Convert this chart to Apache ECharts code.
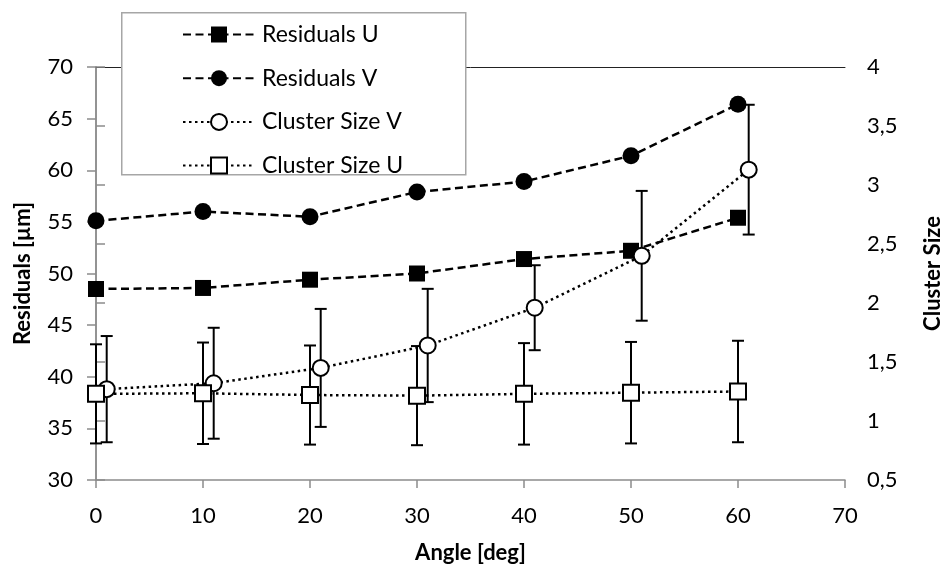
<!DOCTYPE html>
<html>
<head>
<meta charset="utf-8">
<script src="https://cdn.jsdelivr.net/npm/echarts@6/dist/echarts.min.js"></script>
<style>
  html, body { margin: 0; padding: 0; background: #fff; }
  #chart { width: 952px; height: 569px; }
</style>
</head>
<body>
<div id="chart"></div>
<script>
// Measured angles (deg); the cluster-size V points are drawn 1 deg to the right
const angles = [0, 10, 20, 30, 40, 50, 60];
const clusterAnglesV = [1, 11, 21, 31, 41, 51, 61];

// Residuals in micrometres (left axis)
const residualsU = [48.5, 48.6, 49.4, 50.0, 51.4, 52.2, 55.4];
const residualsV = [55.1, 56.0, 55.5, 57.9, 58.9, 61.4, 66.4];

// Cluster size (right axis) with symmetric errors
const clusterSizeV = [1.27, 1.32, 1.45, 1.64, 1.96, 2.40, 3.13];
const clusterErrV  = [0.45, 0.47, 0.50, 0.48, 0.36, 0.55, 0.55];
const clusterSizeU = [1.23, 1.235, 1.22, 1.215, 1.23, 1.24, 1.25];
const clusterErrU  = [0.42, 0.43, 0.42, 0.42, 0.43, 0.43, 0.43];

// Tick labels of the right axis use a decimal comma
const rightTicks = [0.5, 1, 1.5, 2, 2.5, 3, 3.5, 4];
const rightTickLabels = ['0,5', '1', '1,5', '2', '2,5', '3', '3,5', '4'];

const FONT = 'Lato';
const AXIS_GREY = '#8c8c8c';

const pairs = (xs, ys) => xs.map((x, i) => [x, ys[i]]);
const errRows = (xs, ys, es) => xs.map((x, i) => [x, ys[i] - es[i], ys[i] + es[i]]);

// Vertical error bar with short horizontal caps
function errorBar(params, api) {
  const x = api.value(0);
  const lo = api.coord([x, api.value(1)]);
  const hi = api.coord([x, api.value(2)]);
  const cap = 6;
  const st = { stroke: '#000', lineWidth: 2 };
  return {
    type: 'group',
    children: [
      { type: 'line', shape: { x1: hi[0], y1: hi[1], x2: lo[0], y2: lo[1] }, style: st },
      { type: 'line', shape: { x1: hi[0] - cap, y1: hi[1], x2: hi[0] + cap, y2: hi[1] }, style: st },
      { type: 'line', shape: { x1: lo[0] - cap, y1: lo[1], x2: lo[0] + cap, y2: lo[1] }, style: st }
    ]
  };
}

const chart = echarts.init(document.getElementById('chart'), null, { renderer: 'canvas' });

chart.setOption({
  animation: false,
  backgroundColor: '#fff',
  textStyle: { fontFamily: FONT, color: '#000' },
  grid: { left: 96, right: 93, top: 67, bottom: 88, containLabel: false },
  graphic: [{
    type: 'rect',
    left: 121, top: 12, z: 5,
    shape: { width: 344, height: 162 },
    style: { fill: '#fff', stroke: '#a6a6a6', lineWidth: 1.5 }
  }],
  legend: {
    orient: 'vertical',
    left: 182, top: 23, z: 6,
    itemWidth: 72, itemHeight: 20, itemGap: 20.7,
    padding: 0,
    textStyle: { fontFamily: FONT, fontSize: 23, lineHeight: 20, color: '#000', padding: [0, 0, 0, 2] },
    data: ['Residuals U', 'Residuals V', 'Cluster Size V', 'Cluster Size U']
  },
  xAxis: [{
    type: 'value', min: 0, max: 70, interval: 10,
    name: 'Angle [deg]', nameLocation: 'middle', nameGap: 62,
    nameTextStyle: { fontFamily: FONT, fontSize: 22, fontWeight: 'bold', color: '#000' },
    axisLine: { show: true, lineStyle: { color: AXIS_GREY, width: 1.5 } },
    axisTick: { show: true, length: 8, lineStyle: { color: AXIS_GREY, width: 1.5 } },
    axisLabel: { fontFamily: FONT, fontSize: 22, color: '#000', margin: 25 },
    splitLine: { show: false }
  }, {
    type: 'value', position: 'top', min: 0, max: 70,
    axisLine: { show: true, lineStyle: { color: '#222', width: 1 } },
    axisTick: { show: false }, axisLabel: { show: false }, splitLine: { show: false }
  }],
  yAxis: [{
    type: 'value', min: 30, max: 70, interval: 5,
    name: 'Residuals [µm]', nameLocation: 'middle', nameGap: 62, nameRotate: 90,
    nameTextStyle: { fontFamily: FONT, fontSize: 22, fontWeight: 'bold', color: '#000' },
    axisLine: { show: true, lineStyle: { color: AXIS_GREY, width: 1.5 } },
    axisTick: { show: true, length: 9, lineStyle: { color: AXIS_GREY, width: 1.5 } },
    axisLabel: { fontFamily: FONT, fontSize: 22, color: '#000', margin: 23 },
    splitLine: { show: false }
  }, {
    type: 'value', min: 0.5, max: 4, interval: 0.5, position: 'right',
    name: 'Cluster Size', nameLocation: 'middle', nameGap: 77, nameRotate: 90,
    nameTextStyle: { fontFamily: FONT, fontSize: 22, fontWeight: 'bold', color: '#000' },
    axisLine: { show: true, lineStyle: { color: AXIS_GREY, width: 1.5 } },
    axisTick: { show: true, length: 9, lineStyle: { color: AXIS_GREY, width: 1.5 } },
    axisLabel: {
      fontFamily: FONT, fontSize: 22, color: '#000', margin: 22,
      formatter: v => {
        const i = rightTicks.findIndex(t => Math.abs(t - v) < 1e-9);
        return i >= 0 ? rightTickLabels[i] : String(v);
      }
    },
    splitLine: { show: false }
  }],
  series: [
    {
      name: 'errU', type: 'custom', xAxisIndex: 0, yAxisIndex: 1, z: 1,
      renderItem: errorBar, encode: { x: 0, y: [1, 2] },
      data: errRows(angles, clusterSizeU, clusterErrU), silent: true
    },
    {
      name: 'errV', type: 'custom', xAxisIndex: 0, yAxisIndex: 1, z: 1,
      renderItem: errorBar, encode: { x: 0, y: [1, 2] },
      data: errRows(clusterAnglesV, clusterSizeV, clusterErrV), silent: true
    },
    {
      name: 'Residuals U', type: 'line', yAxisIndex: 0, z: 3,
      data: pairs(angles, residualsU),
      symbol: 'rect', symbolSize: 16,
      lineStyle: { color: '#000', width: 2.5, type: [8, 4.5] },
      itemStyle: { color: '#000', borderColor: '#000', borderWidth: 0 }
    },
    {
      name: 'Residuals V', type: 'line', yAxisIndex: 0, z: 3,
      data: pairs(angles, residualsV),
      symbol: 'circle', symbolSize: 17,
      lineStyle: { color: '#000', width: 2.5, type: [8, 4.5] },
      itemStyle: { color: '#000', borderColor: '#000', borderWidth: 0 }
    },
    {
      name: 'Cluster Size V', type: 'line', yAxisIndex: 1, z: 3,
      data: pairs(clusterAnglesV, clusterSizeV),
      symbol: 'circle', symbolSize: 16, showAllSymbol: true,
      lineStyle: { color: '#000', width: 2.5, type: [2.5, 3.5] },
      itemStyle: { color: '#fff', borderColor: '#000', borderWidth: 2 }
    },
    {
      name: 'Cluster Size U', type: 'line', yAxisIndex: 1, z: 3,
      data: pairs(angles, clusterSizeU),
      symbol: 'rect', symbolSize: 16,
      lineStyle: { color: '#000', width: 2.5, type: [2.5, 3.5] },
      itemStyle: { color: '#fff', borderColor: '#000', borderWidth: 2 }
    }
  ]
});
</script>
</body>
</html>
